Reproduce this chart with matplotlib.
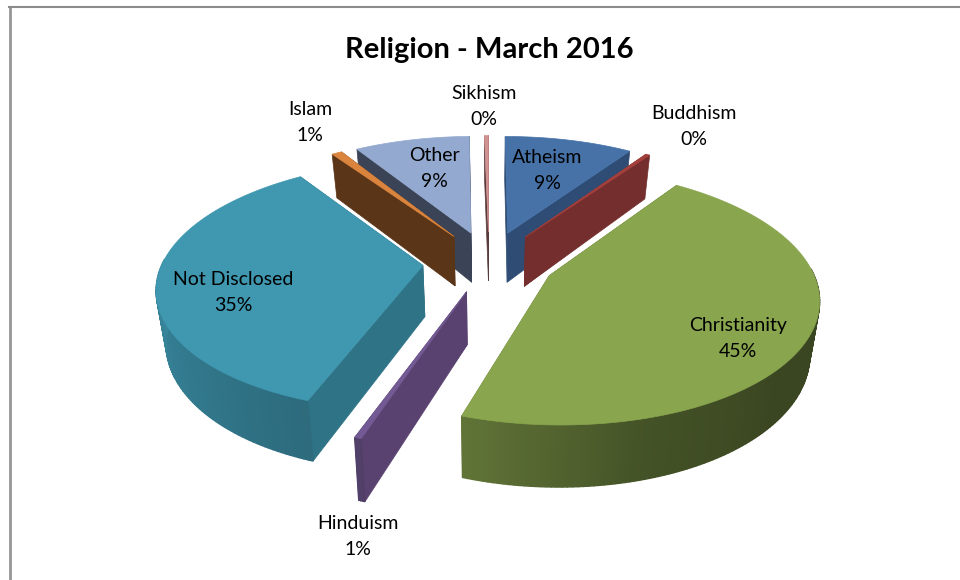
import numpy as np
import matplotlib
matplotlib.use("Agg")
import matplotlib.pyplot as plt
from matplotlib.patches import Polygon
from matplotlib.lines import Line2D

plt.rcParams['font.family'] = ['Lato', 'DejaVu Sans']

# religion shares, clockwise from 12 o'clock
categories = ["Atheism", "Buddhism", "Christianity", "Hinduism",
              "Not Disclosed", "Islam", "Other", "Sikhism"]
shares = [9.45, 0.3, 45.35, 0.35, 35.0, 0.75, 8.5, 0.3]
pct_labels = ["9%", "0%", "45%", "1%", "35%", "1%", "9%", "0%"]
chart_title = "Religion - March 2016"

top_colors = ["#4672A8", "#A5403D", "#89A54E", "#735A94", "#3F97B0", "#DB843D", "#93A9CF", "#D19392"]
side_colors = ["#2E4C74", "#732E2D", "#5F7236", "#5A4270", "#2F7387", "#5A3518", "#3B4356", "#5A3A3A"]

# label centres in pixels (name line)
label_pos = {"Atheism": (547, 156), "Buddhism": (694, 112), "Christianity": (738, 324),
             "Hinduism": (358, 522), "Not Disclosed": (233, 278), "Islam": (310, 108),
             "Other": (434, 154), "Sikhism": (484, 92)}

# pie projection
cx, cy = 489, 261.5
rx, ry = 260, 120.5
persp = 0.16
explode = 0.255
depth = 51
base_shrink = 0.03  # underside of the pie looks a bit narrower


def project(u, v, down=0.0):
    p = 1 / (1 + persp * v)
    return cx + rx * u * p * (1 - base_shrink * down / depth), cy - ry * v * p + down * p


def wall_shade(theta):
    return np.interp(theta, [90, 130, 165, 197, 225, 270, 330],
                     [0.42, 0.42, 0.50, 0.70, 0.78, 0.90, 0.90])


fig = plt.figure(figsize=(9.6, 5.8), dpi=100)
ax = fig.add_axes([0, 0, 1, 1])
ax.set_xlim(0, 960)
ax.set_ylim(580, 0)
ax.axis("off")

# chart frame
ax.add_line(Line2D([9.5, 9.5], [580, 7], color="#969696", lw=2))
ax.add_line(Line2D([8.5, 960], [7, 7], color="#8C8C8C", lw=1.5))

edges = np.concatenate([[0], np.cumsum(shares)]) / sum(shares) * 360

slices = []
for i in range(len(categories)):
    a0, a1 = edges[i], edges[i + 1]
    mid = np.radians((a0 + a1) / 2)
    slices.append((np.cos(mid), i, a0, a1, mid))

# back to front
slices.sort(key=lambda s: -s[0])

for _, i, a0, a1, mid in slices:
    ou, ov = explode * np.sin(mid), explode * np.cos(mid)
    th = np.linspace(a0, a1, max(4, int(a1 - a0) + 2))
    us = ou + np.sin(np.radians(th))
    vs = ov + np.cos(np.radians(th))
    top = [project(ou, ov)] + [project(u, v) for u, v in zip(us, vs)]
    base = top_colors[i]

    # radial walls
    for j in (-1, 0):
        quad = [project(ou, ov), project(us[j], vs[j]),
                project(us[j], vs[j], depth), project(ou, ov, depth)]
        ax.add_patch(Polygon(quad, closed=True, fc=side_colors[i], ec=side_colors[i], lw=0.5))

    # outer wall, one thin strip per step so it can shade; only the part facing us
    rgb = np.array(matplotlib.colors.to_rgb(base))
    for k in range(len(th) - 1):
        mid_th = (th[k] + th[k + 1]) / 2
        if np.cos(np.radians(mid_th)) > 0.05:
            continue
        quad = [project(us[k], vs[k]), project(us[k + 1], vs[k + 1]),
                project(us[k + 1], vs[k + 1], depth), project(us[k], vs[k], depth)]
        c = rgb * wall_shade(mid_th)
        ax.add_patch(Polygon(quad, closed=True, fc=c, ec=c, lw=1.0))

    ax.add_patch(Polygon(top, closed=True, fc=base, ec=base, lw=0.5))

for name, pct in zip(categories, pct_labels):
    x, y = label_pos[name]
    ax.text(x, y + 1.5, name, ha="center", va="center", fontsize=14, color="black")
    ax.text(x, y + 27.5, pct, ha="center", va="center", fontsize=14, color="black")

ax.text(489, 50, chart_title, ha="center", va="center", fontsize=21, fontweight="bold", color="black")

fig.savefig("out.png", dpi=100)
